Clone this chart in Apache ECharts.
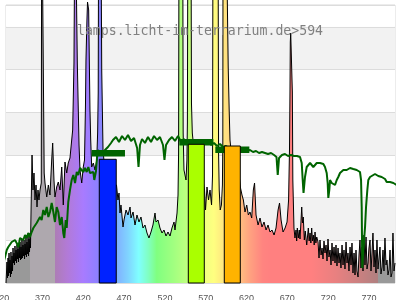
<!DOCTYPE html>
<html><head><meta charset="utf-8">
<script src="https://cdn.jsdelivr.net/npm/echarts@6/dist/echarts.min.js"></script>
<style>html,body{margin:0;padding:0;background:#fff}#c{width:400px;height:300px}</style>
</head><body><div id="c"></div>
<script>
// ---------- data ----------
const titleText = 'lamps.licht-im-terrarium.de>594';
const xTickLabels = ['320','370','420','470','520','570','620','670','720','770'];

// lamp spectrum [nm, relative intensity]
const spectrum = [
[325.3,0],[326.5,21],[327.1,5],[327.8,25],[328.4,7],[329.0,30],[329.6,10],[330.2,23],[330.8,6],[331.4,31],[332.0,9],[332.7,27],[333.3,12],[333.9,35],[334.5,20],[335.1,30],[335.7,18],[336.3,37],[337.0,22],[337.6,33],[338.2,20],[338.8,38],[339.4,24],[340.0,34],[340.6,21],[341.2,40],[341.9,25],[342.5,41],[343.1,23],[343.7,36],[344.3,24],[344.9,44],[345.5,25],[346.1,38],[346.8,27],[347.4,43],[348.0,24],[348.6,39],[349.2,28],[349.8,46],[350.4,26],[351.0,41],[351.7,29],[352.3,47],[352.9,27],[353.5,44],[354.1,31],[354.7,50],[355.3,35],
[355.9,68],[357.2,128],[358.4,93],[359.6,110],[360.8,83],[362.1,98],[363.3,76],[364.5,93],[365.7,83],[367.0,93],[368.5,100],[369.1,400],[371.5,400],[372.1,110],[373.1,100],[375.2,86],[377.2,98],[379.2,88],[381.3,123],[382.5,140],[384.1,103],[385.3,86],[387.4,96],[389.4,101],[391.5,93],[393.6,116],[395.5,78],[397.6,121],[399.7,110],[401.6,120],[403.7,125],[405.8,143],
[407.0,153],[408.6,220],[409.9,400],[411.5,400],[412.7,220],[413.9,173],[414.8,138],[416.0,113],[418.1,100],[420.0,116],[421.5,123],[422.1,150],[422.7,178],[423.3,223],[424.5,263],[425.2,281],[426.6,273],[427.4,223],[428.2,173],[429.1,143],[430.3,116],[432.3,120],[434.4,113],[436.5,123],[437.6,150],[438.3,190],[438.9,400],[441.4,400],[442.6,213],[443.6,163],[444.2,133],[448.0,98],[452.8,93],[457.7,98],
[460.7,98],[462.5,83],[463.8,90],[465.0,70],[466.2,78],[468.7,56],[469.9,63],[472.4,73],[474.8,68],[477.3,76],[478.5,65],[481.0,71],[483.4,58],[485.8,68],[488.3,61],[490.7,66],[493.2,55],[495.6,58],[498.1,50],[500.5,45],[503.0,51],[505.4,58],[507.9,70],[509.1,61],[511.6,63],[514.0,55],[516.5,50],[518.9,53],[521.4,47],[523.8,51],[526.3,47],[528.7,55],[531.2,61],[532.4,53],[534.9,70],[536.1,88],
[536.8,130],[537.4,400],[541.8,400],[542.4,150],[543.4,113],[545.9,103],[547.0,123],[547.6,160],[548.3,400],[551.9,400],[552.6,180],[553.6,150],[555.7,133],[560.6,113],[565.5,108],[568.6,93],[569.8,73],[571.6,96],[573.5,83],[575.3,93],[577.2,78],[578.4,108],[579.0,400],[585.1,400],[585.8,130],[586.6,93],[587.8,73],[589.3,78],[590.5,98],[591.0,140],[591.3,400],[594.6,400],[597.6,216],[598.9,170],[599.8,143],[601.0,133],[604.7,123],[609.6,118],
[612.7,95],[614.5,88],[616.2,83],[618.2,71],[620.3,78],[622.3,68],[624.3,71],[626.4,65],[628.4,93],[629.9,100],[631.7,68],[634.2,58],[636.6,65],[639.0,56],[641.5,61],[644.0,53],[646.4,58],[648.8,51],[651.3,53],[653.8,48],[656.2,55],[658.7,73],[660.5,80],[662.4,63],[664.8,51],[667.3,55],[669.7,61],[671.6,83],[672.7,133],[673.3,191],[673.7,241],[674.2,250],[675.4,250],[676.2,191],[676.8,103],
[678.2,55],[679.4,45],[680.7,53],[681.5,42],[682.3,55],[683.5,45],[684.7,53],[685.6,44],[686.5,57],[687.7,76],[688.6,60],[689.6,66],[690.9,43],[692.0,52],[693.0,50],[693.8,38],[694.6,40],[695.8,55],[696.8,42],[697.9,50],[698.9,40],[699.9,55],[700.9,42],[701.9,48],[703.0,38],[704.0,51],[705.0,40],[706.1,46],
[707.7,41],[708.9,25],[710.1,43],[711.4,28],[712.6,35],[713.8,24],[715.0,42],[716.2,30],[717.5,38],[718.7,22],[719.9,44],[721.1,26],[722.4,33],[723.6,18],[724.8,40],[726.0,22],[727.3,36],[728.5,20],[729.7,38],[730.9,17],[732.2,35],[733.4,20],[734.6,30],[735.8,15],[737.1,38],[738.3,18],[739.5,33],[740.7,14],[742.0,41],[743.2,20],[744.4,30],[745.6,12],[746.9,36],[748.1,18],[749.3,40],[750.5,10],[751.8,30],[753.0,8],[754.2,33],[755.4,12],[756.7,6],[757.9,28],[759.1,43],[760.3,15],[761.6,36],[762.8,12],[764.0,48],[765.2,18],[766.5,46],[767.7,14],[768.9,20],[770.1,35],[771.4,43],[772.6,12],[773.8,30],[775.0,50],[776.3,16],[777.5,33],[778.7,10],[779.9,43],[781.2,14],[782.4,25],[783.6,36],[784.8,9],[786.1,16],[787.3,33],[788.5,12],[789.7,45],[791.0,18],[792.2,23],[793.4,8],[794.6,13],[795.9,33],[797.1,6],[798.3,10],[799.5,50],[800.8,12],[802.0,20]
];

// reference (sun) spectrum [nm, relative intensity]
const solar = [
[320.0,11],[322.0,20],[324.1,26],[326.2,33],[328.1,36],[330.2,35],[332.3,41],[334.2,40],[336.3,43],[338.4,40],[340.4,36],[342.5,45],[344.5,46],[346.5,43],[348.6,48],[350.7,45],[352.6,50],[354.7,46],[356.8,51],[358.8,55],[360.8,53],[362.9,60],[364.9,58],[367.0,66],[369.0,63],[371.0,73],[373.1,68],[375.2,76],[377.2,66],[379.2,71],[381.3,80],[383.3,71],[385.3,61],[387.4,76],[389.4,71],[391.5,58],[393.6,66],[395.5,50],[396.7,45],[398.5,63],[399.7,55],[401.6,81],[403.7,93],[405.8,103],[407.8,108],[409.9,100],[412.0,111],[413.9,108],[416.0,115],[418.1,116],[420.0,111],[422.1,115],[424.2,111],[426.2,116],[428.2,110],[430.3,111],[432.3,111],[433.5,103],[434.4,101],[435.6,112],[436.8,125],[438.0,133],[442.0,128],[446.6,133],[450.3,136],[454.0,140],
[456.4,143],[460.1,146],[463.8,141],[467.5,147],[471.1,143],[474.8,148],[478.5,142],[482.2,145],[486.0,135],[487.7,116],[489.5,138],[492.0,144],[495.6,140],[499.3,146],[503.0,141],[506.7,147],[510.4,143],[514.0,146],[517.7,138],[519.5,123],[521.4,138],[525.1,143],[528.7,146],[532.4,142],[536.1,147],[539.8,141],[543.4,144],[547.1,140],
[550.8,142],[554.5,139],[558.1,143],[561.8,140],[565.5,142],[569.2,140],[572.9,142],[576.5,138],[580.2,140],[583.9,137],[587.6,139],[591.2,136],[594.9,137],[598.6,135],[602.3,136],[606.0,134],[609.6,135],[613.3,133],[617.0,134],[620.7,132],[624.3,133],[628.0,131],[631.7,132],[635.4,130],[639.0,131],[642.7,130],[646.4,129],[650.1,130],[653.8,128],[656.8,126],[658.3,108],[659.9,125],[663.5,128],[667.2,129],[670.9,127],[674.6,128],[678.2,127],[681.9,127],[685.6,126],
[687.7,120],[688.9,103],[689.9,90],[691.7,106],[693.8,116],[695.8,116],[697.9,120],[699.9,121],[701.9,116],[704.0,118],[706.1,120],[710.1,120],[714.2,119],[716.2,116],[718.3,110],[719.5,100],[720.3,85],[721.5,93],[722.4,103],[724.4,100],[726.4,101],[728.5,98],[730.6,103],[732.5,106],[734.6,110],[736.7,111],[738.7,113],[742.8,113],[746.9,115],[750.9,114],[755.1,113],[759.1,111],[760.4,103],[761.2,76],[761.9,15],[763.2,33],[765.3,56],[766.5,76],[768.1,93],[769.3,103],[771.4,106],[773.5,108],[777.5,109],[781.5,107],[785.7,106],[789.8,104],[791.8,101],[795.9,101],[800.0,100],[806.0,97]
];

// colour bands of the lamp [from nm, to nm, value]
const bands = [[439.6,460.4,123.7],[548.7,568.3,138.7],[592.8,612.4,137]];
// reference level for each band [from nm, to nm, value]
const bandRefs = [[430.3,471.1,129.75],[537.7,579.4,140.75],[581.8,623.5,133.25]];

// ---------- styles ----------
const bandColors = ['#0022ff','#aaff00','#ffb300'];
const refColor = '#006400';
const refThickness = 6.5;
const spectrumStops = [
 [325.3,'#999999'],[354.7,'#999999'],[354.8,'#aea8ae'],[385.2,'#aea8ae'],[385.3,'#ad7db5'],[400,'#b27ad6'],[420,'#a87bff'],[437,'#8e80ff'],[450,'#8090ff'],[461,'#80b0ff'],[475,'#80d4ff'],[488,'#80ffff'],[500,'#80ffc0'],[510,'#80ff80'],[530,'#a0ff80'],[548,'#c0ff80'],[568,'#f0ff80'],[580,'#ffff80'],[593,'#ffe480'],[612,'#ffc080'],[625,'#ffa080'],[640,'#ff8480'],[650,'#ff8080'],[700,'#ff8080'],[730,'#e88080'],[760,'#c88080'],[780.9,'#b08080'],[781,'#999999'],[802,'#999999']
];

const chart = echarts.init(document.getElementById('c'), null, {renderer:'canvas', width:400, height:300});
const nm0 = spectrum[0][0], nm1 = spectrum[spectrum.length-1][0];
const grad = new echarts.graphic.LinearGradient(0,0,1,0,
  spectrumStops.map(s => ({offset: Math.min(1, Math.max(0, (s[0]-nm0)/(nm1-nm0))), color: s[1]})));

const option = {
  animation: false,
  title: {text: titleText, left: 'center', top: 25, padding: 0,
    textStyle: {fontFamily: 'DejaVu Sans Mono', fontSize: 13.2, fontWeight: 'normal', color: '#808080'}},
  grid: [
    {left: 6, right: 5, top: 5, bottom: 17, show: true, borderColor: '#d9d9d9', borderWidth: 1, containLabel: false, outerBoundsMode: 'none'},
    {left: 1.67, right: 5, top: 5, bottom: 17, show: false, containLabel: false, outerBoundsMode: 'none'}
  ],
  xAxis: [
    {type: 'value', gridIndex: 0, min: 325.3, max: 802, axisLine: {show: false}, axisTick: {show: false}, axisLabel: {show: false}, splitLine: {show: false}},
    {type: 'value', gridIndex: 1, min: 0, max: 481.85, interval: 50, axisLine: {show: false}, axisTick: {show: false}, splitLine: {show: false},
      axisLabel: {show: true, margin: 11, fontSize: 9, fontFamily: 'Liberation Sans', color: '#555', showMaxLabel: false, showMinLabel: true, hideOverlap: false,
        formatter: v => xTickLabels[Math.round(v/50)] || ''}}
  ],
  yAxis: [
    {type: 'value', gridIndex: 0, min: 0, max: 278, interval: 42.7, axisLine: {show: false}, axisTick: {show: false}, axisLabel: {show: false},
      splitLine: {show: true, lineStyle: {color: '#dcdcdc', width: 1}},
      splitArea: {show: true, areaStyle: {color: ['#ffffff', '#f2f2f2']}}},
    {type: 'value', gridIndex: 1, min: 0, max: 1, show: false}
  ],
  series: [
    {type: 'line', xAxisIndex: 0, yAxisIndex: 0, data: spectrum, symbol: 'none', clip: false, z: 2,
      lineStyle: {color: '#000', width: 1}, areaStyle: {color: grad, opacity: 1}},
    {type: 'line', xAxisIndex: 0, yAxisIndex: 0, data: solar, symbol: 'none', clip: false, z: 3,
      lineStyle: {color: refColor, width: 2}},
    {type: 'custom', xAxisIndex: 0, yAxisIndex: 0, data: bandRefs, z: 4, encode: {x: [0, 1], y: 2},
      renderItem: (params, api) => {
        const a = api.coord([api.value(0), api.value(2)]);
        const b = api.coord([api.value(1), api.value(2)]);
        return {type: 'rect', shape: {x: a[0], y: a[1] - refThickness/2, width: b[0]-a[0], height: refThickness}, style: {fill: refColor}};
      }},
    {type: 'custom', xAxisIndex: 0, yAxisIndex: 0, data: bands, z: 5, encode: {x: [0, 1], y: 2},
      renderItem: (params, api) => {
        const a = api.coord([api.value(0), api.value(2)]);
        const b = api.coord([api.value(1), 0]);
        return {type: 'rect', shape: {x: a[0], y: a[1], width: b[0]-a[0], height: b[1]-a[1]},
          style: {fill: bandColors[params.dataIndex], stroke: '#000', lineWidth: 1}};
      }}
  ]
};
chart.setOption(option);
</script>
</body></html>
